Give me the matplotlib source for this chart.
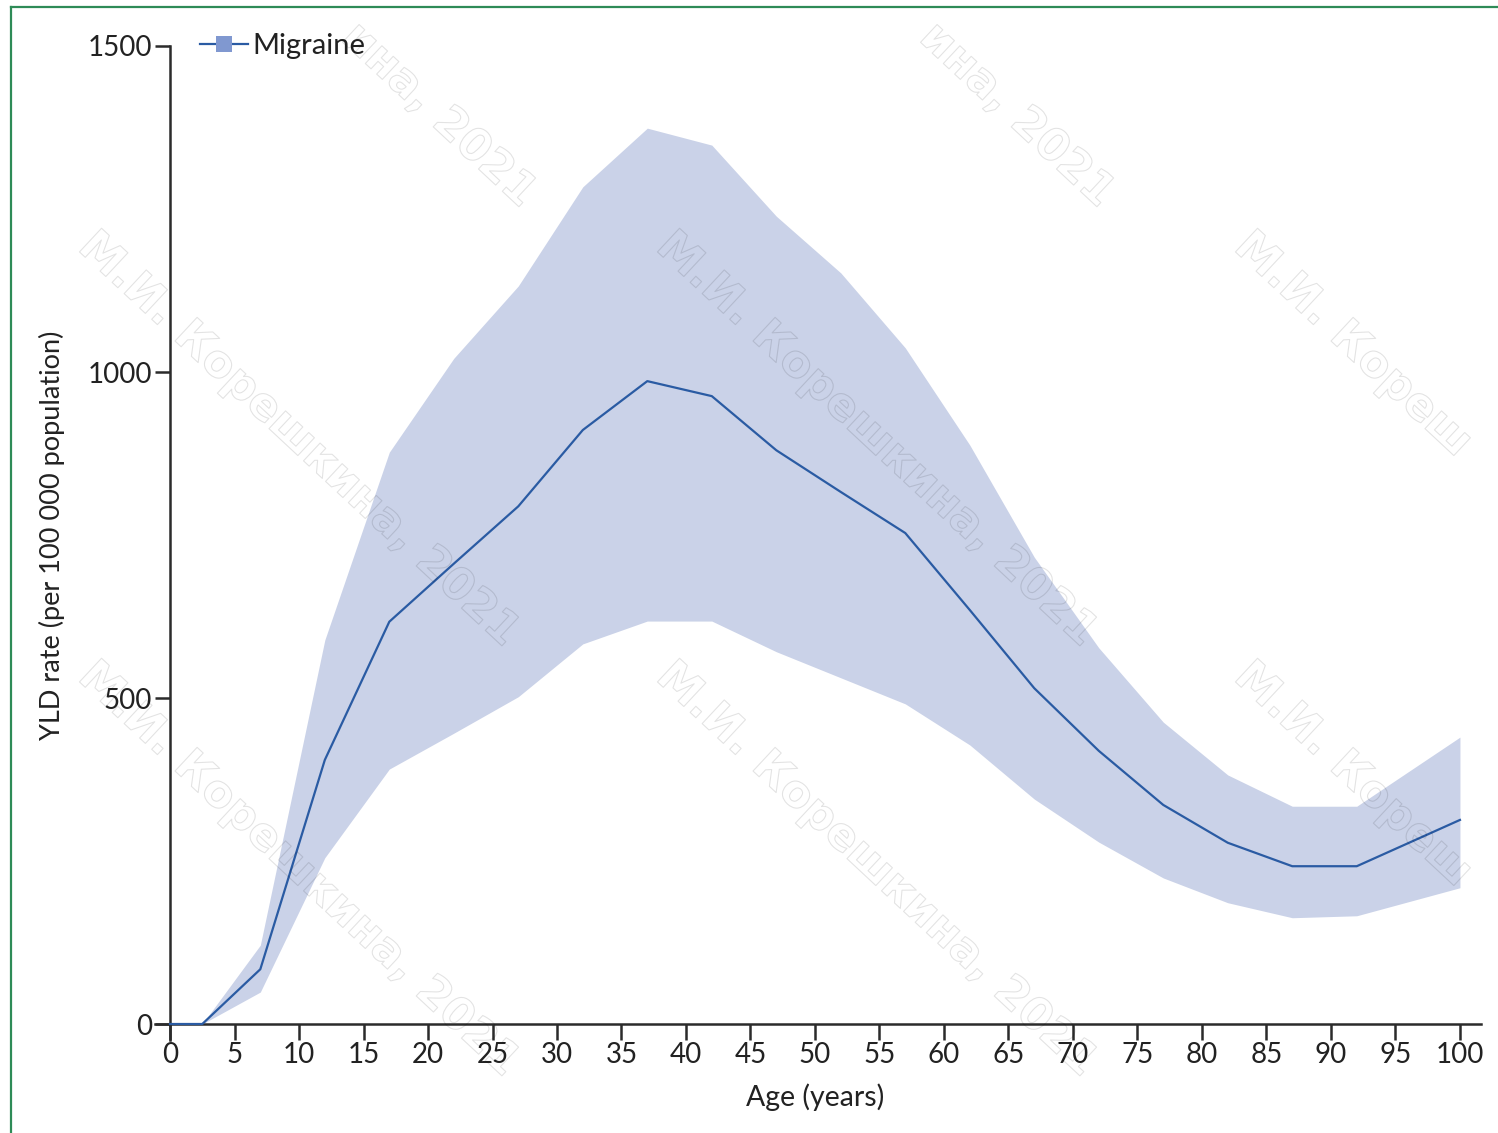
import matplotlib
matplotlib.use("Agg")
import matplotlib.pyplot as plt
from matplotlib.lines import Line2D
import matplotlib.patheffects as pe

# ---- data ----
age = [0, 2.5, 7, 12, 17, 22, 27, 32, 37, 42, 47, 52, 57, 62, 67, 72, 77, 82, 87, 92, 100]
rate = [0, 0, 84, 405, 617, 706, 794, 911, 986, 963, 880, 816, 753, 635, 515, 419, 336, 278, 242, 242, 313]
upper = [0, 0, 121, 589, 877, 1021, 1132, 1284, 1374, 1348, 1239, 1152, 1037, 888, 716, 577, 463, 382, 334, 334, 440]
lower = [0, 0, 49, 255, 391, 446, 502, 583, 618, 618, 571, 531, 491, 428, 345, 279, 224, 186, 163, 166, 209]
xticks = list(range(0, 101, 5))
yticks = [0, 500, 1000, 1500]
series_label = "Migraine"
xlabel = "Age (years)"
ylabel = "YLD rate (per 100 000 population)"
watermark = "М.И. Корешкина, 2021"
watermark_top = "ина, 2021"
watermark_right = "М.И. Кореш"

plt.rcParams['font.family'] = ['Lato', 'DejaVu Sans']

line_color = '#2a5ba3'
band_color = '#cad2e8'
axis_color = '#2b2b2b'
text_color = '#222222'

fig = plt.figure(figsize=(14.98, 11.33), dpi=100)
ax = fig.add_axes([0.1135, 0.0962, 0.8611, 0.8632])

ax.fill_between(age, lower, upper, color=band_color, linewidth=0, zorder=1)
ax.plot(age, rate, color=line_color, linewidth=1.6, zorder=3, clip_on=False)

ax.set_xlim(0, 100)
ax.set_ylim(0, 1500)
ax.set_xticks(xticks)
ax.set_yticks(yticks)

for s in ['top', 'right']:
    ax.spines[s].set_visible(False)
for s in ['left', 'bottom']:
    ax.spines[s].set_color(axis_color)
    ax.spines[s].set_linewidth(1.8)
    ax.spines[s].set_zorder(2.5)
ax.spines['bottom'].set_bounds(-1.2, 101.6)
ax.spines['left'].set_bounds(-25, 1500)

ax.tick_params(axis='x', length=11.5, width=1.8, color=axis_color, pad=1.5,
               labelsize=20, labelcolor=text_color)
ax.tick_params(axis='y', length=11, width=1.8, color=axis_color, pad=2,
               labelsize=20, labelcolor=text_color)

ax.set_xlabel(xlabel, fontsize=20.5, color=text_color)
ax.xaxis.set_label_coords(0.5, -0.061)
ax.set_ylabel(ylabel, fontsize=19.5, color=text_color)
ax.yaxis.set_label_coords(-0.0814, 0.5)

handle = Line2D([], [], color=line_color, linewidth=1.6, marker='s',
                markersize=11, markerfacecolor='#8098d0', markeredgewidth=0)
leg = ax.legend([handle], [series_label], loc='center left',
                bbox_to_anchor=(0.014, 1.0), frameon=False, fontsize=21,
                handlelength=1.65, handletextpad=0.15, borderaxespad=0)
for t in leg.get_texts():
    t.set_color(text_color)

# watermark (hollow outlined text)
wm_kw = dict(rotation=-43, rotation_mode='anchor', va='center',
             fontsize=32, fontweight='bold', family='DejaVu Sans',
             color=(1, 1, 1, 0), zorder=5,
             path_effects=[pe.Stroke(linewidth=0.8, foreground=(0, 0, 0, 0.11))])
W, H = 1498, 1133
# full copies: anchored at start point
for sx in [85, 663]:
    for sy in [240, 670]:
        fig.text(sx / W, 1 - sy / H, watermark, ha='left', **wm_kw)
# top row: visible tail only, anchored at end point
for ex in [530, 1108]:
    fig.text(ex / W, 1 - 200 / H, watermark_top, ha='right', **wm_kw)
# right column: visible head only
for sy in [240, 670]:
    fig.text(1241 / W, 1 - sy / H, watermark_right, ha='left', **wm_kw)

# green frame (left and top edges)
fig.add_artist(Line2D([10.5 / W, 10.5 / W], [0, 1 - 7 / H],
                      transform=fig.transFigure, color='#2e8b57', linewidth=1.6))
fig.add_artist(Line2D([10.5 / W, 1], [1 - 7 / H, 1 - 7 / H],
                      transform=fig.transFigure, color='#2e8b57', linewidth=1.6))

fig.savefig('out.png', dpi=100)
